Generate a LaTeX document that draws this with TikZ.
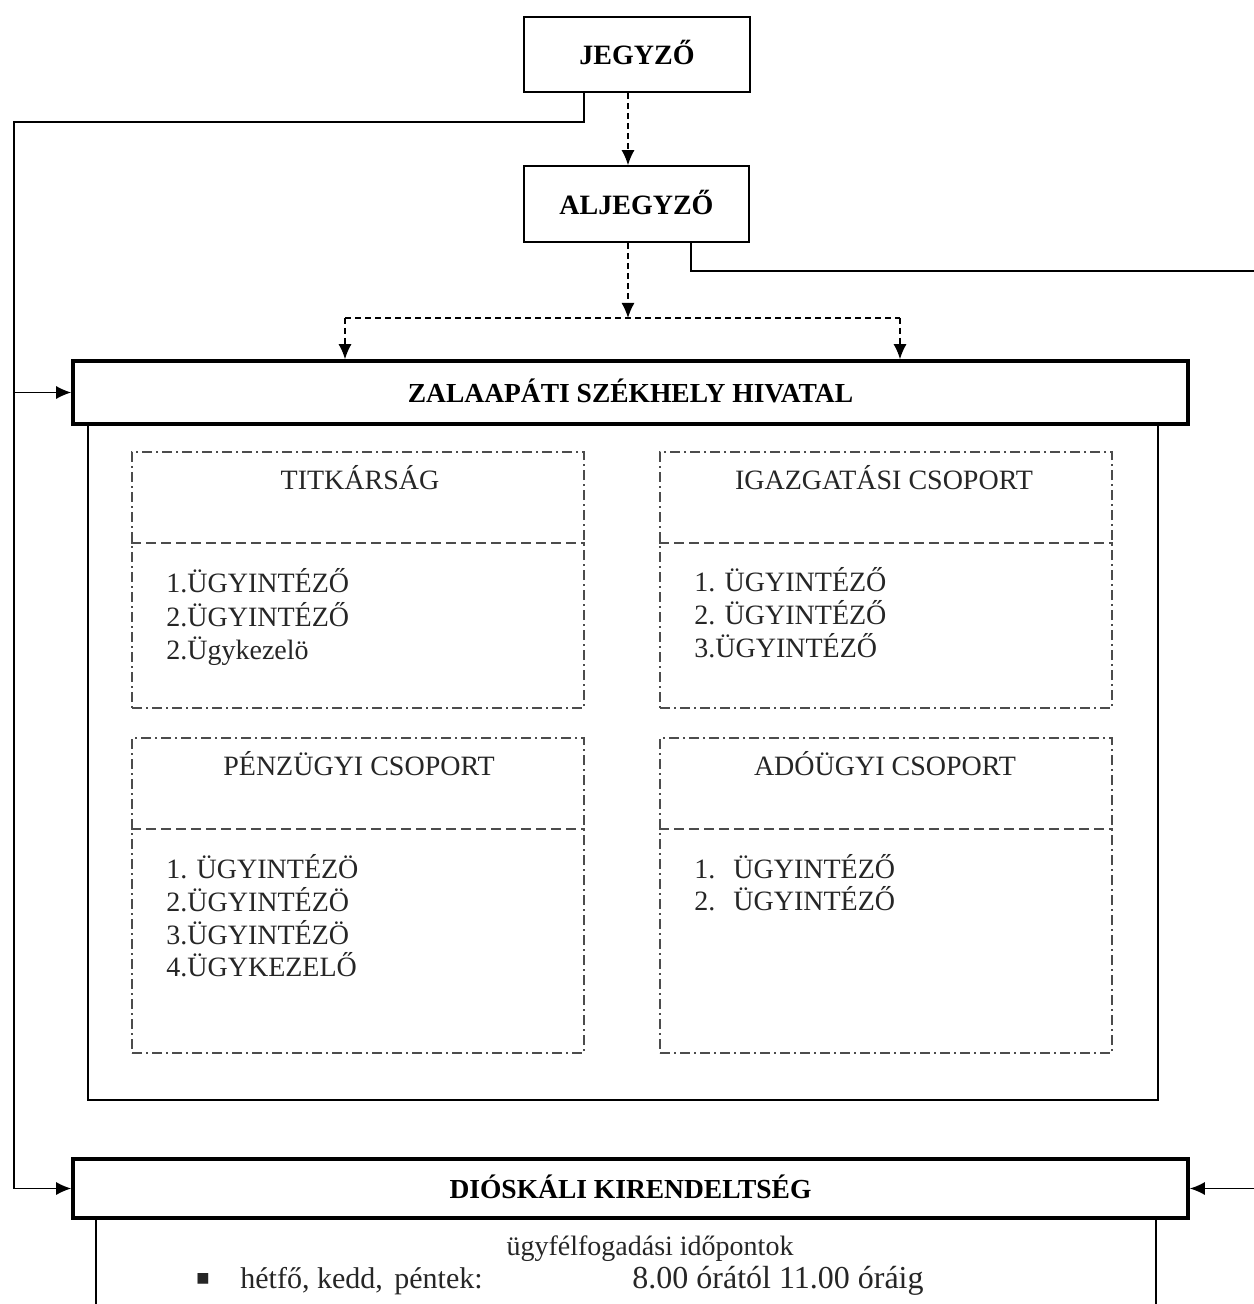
\documentclass[tikz,border=0pt]{standalone}
\usepackage{fontspec}
\setmainfont{Liberation Serif}
\newfontfamily\symfont{DejaVu Sans}
\usetikzlibrary{arrows.meta,calc}
\begin{document}
\begin{tikzpicture}[x=0.5pt,y=-0.5pt,
  lbl/.style={font=\fontsize{14}{16}\selectfont\bfseries},
  topbox/.style={draw,line width=0.8pt,inner sep=0pt,lbl},
  mainbox/.style={draw,line width=1.8pt,inner sep=0pt,fill=white,font=\fontsize{13.75}{16}\selectfont\bfseries},
  grp/.style={draw=black!70,line width=0.6pt,dash pattern=on 5pt off 2pt on 1pt off 2pt,inner sep=0pt,minimum width=226pt},
  divider/.style={draw=black!70,line width=0.6pt,dash pattern=on 5pt off 2.5pt},
  ttl/.style={font=\fontsize{14}{16}\selectfont,text=black!85,anchor=base,inner sep=0pt},
  item/.style={font=\fontsize{14}{16}\selectfont,text=black!85,anchor=base west,inner sep=0pt},
  bigitem/.style={font=\fontsize{15}{17}\selectfont,text=black!85,anchor=base west,inner sep=0pt},
  conn/.style={draw,line width=0.75pt},
  tip/.style={-{Latex[length=7.5pt,width=6.5pt]}},
  dconn/.style={draw,line width=0.75pt,dash pattern=on 3pt off 2pt},
]
\useasboundingbox (0,0) rectangle (1253,1304);
\fill[white] (0,0) rectangle (1253,1304);

% containers
\draw[line width=0.75pt] (88,424) rectangle (1158,1100);
\draw[line width=0.75pt] (96,1330) -- (96,1218) -- (1156,1218) -- (1156,1330);

% top boxes
\node[topbox,minimum width=113pt,minimum height=37.5pt] (jeg) at (637,54.5) {\raisebox{2pt}{JEGYZŐ}};
\node[topbox,minimum width=112.5pt,minimum height=38pt] (aljeg) at (636.5,204) {\raisebox{2pt}{ALJEGYZŐ}};

% main boxes
\node[mainbox,minimum width=557.5pt,minimum height=31.5pt] (zal) at (630.5,392.5) {\raisebox{1.5pt}{ZALAAPÁTI SZÉKHELY HIVATAL}};
\node[mainbox,minimum width=557.5pt,minimum height=29.5pt] (dio) at (630.5,1188.5) {\raisebox{1.5pt}{DIÓSKÁLI KIRENDELTSÉG}};

% group boxes
\node[grp,minimum height=128pt] (tit) at (358,580) {};
\node[grp,minimum height=128pt] (iga) at (886,580) {};
\node[grp,minimum height=157.5pt] (pen) at (358,895.5) {};
\node[grp,minimum height=157.5pt] (ado) at (886,895.5) {};
\draw[divider] (tit.west |- 0,543) -- (tit.east |- 0,543);
\draw[divider] (iga.west |- 0,543) -- (iga.east |- 0,543);
\draw[divider] (pen.west |- 0,829) -- (pen.east |- 0,829);
\draw[divider] (ado.west |- 0,829) -- (ado.east |- 0,829);

\node[ttl] (titT) at (360,489) {TITKÁRSÁG};
\node[ttl] (igaT) at (884,489) {IGAZGATÁSI CSOPORT};
\node[ttl] (penT) at (359,775) {PÉNZÜGYI CSOPORT};
\node[ttl] (adoT) at (885,775) {ADÓÜGYI CSOPORT};

\node[item] (t1) at (166,592) {1.ÜGYINTÉZŐ};
\node[item] (t2) at (166,626) {2.ÜGYINTÉZŐ};
\node[item] (t3) at (166,659) {2.Ügykezelö};

\node[item] (i1) at (694,591) {1. ÜGYINTÉZŐ};
\node[item] (i2) at (694,624) {2. ÜGYINTÉZŐ};
\node[item] (i3) at (694,657) {3.ÜGYINTÉZŐ};

\node[item] (p1) at (166,878) {1. ÜGYINTÉZÖ};
\node[item] (p2) at (166,911) {2.ÜGYINTÉZÖ};
\node[item] (p3) at (166,944) {3.ÜGYINTÉZÖ};
\node[item] (p4) at (166,976) {4.ÜGYKEZELŐ};

\node[item] (a1) at (694,878) {1.\hspace{9pt}ÜGYINTÉZŐ};
\node[item] (a2) at (694,910) {2.\hspace{9pt}ÜGYINTÉZŐ};

% bottom text
\node[ttl] (ugy) at (650,1255) {ügyfélfogadási időpontok};
\node[inner sep=0pt,text=black!85,font=\symfont\fontsize{7}{8}\selectfont] (bul) at (203,1279) {■};
\node[bigitem] (days) at (240,1288) {hétfő, kedd,\hspace{2pt} péntek:};
\node[bigitem,font=\fontsize{16}{18}\selectfont] (hrs) at (632,1288) {8.00 órától 11.00 óráig};

% dashed hierarchy
\coordinate (split) at (628,318);
\coordinate (sl) at (345,318);
\coordinate (sr) at (900,318);
\draw[dconn,tip] ($(jeg.south)+(-9,0)$) -- ($(aljeg.north)+(-8.5,0)$);
\draw[dconn,tip] ($(aljeg.south)+(-8.5,0)$) -- (split);
\draw[dconn] (sl) -- (sr);
\draw[dconn,tip] (sl) -- (sl |- zal.north);
\draw[dconn,tip] (sr) -- (sr |- zal.north);

% solid left line from JEGYZŐ
\coordinate (lt) at (14,122);
\draw[conn,tip] ($(jeg.south)+(-53,0)$) |- (lt) |- (dio.west);
\draw[conn,tip] (lt |- zal.west) -- (zal.west);

% solid right line from ALJEGYZŐ (vertical runs just beyond the page edge)
\coordinate (rt) at (1260,271);
\draw[conn,tip] ($(aljeg.south)+(54.5,0)$) |- (rt) |- (dio.east);
\end{tikzpicture}
\end{document}
